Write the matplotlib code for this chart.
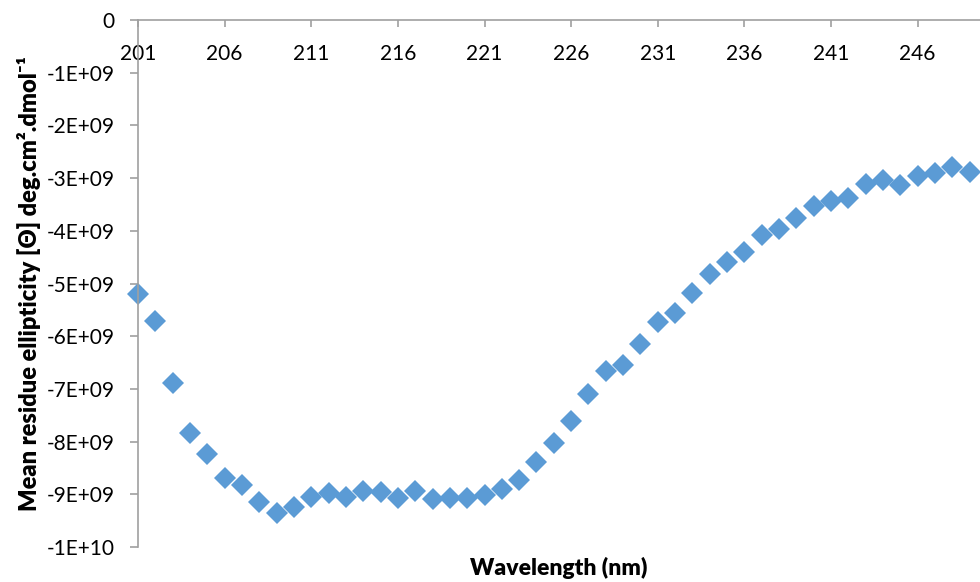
import numpy as np
import matplotlib.pyplot as plt

# CD spectrum, mean residue ellipticity vs wavelength
wavelength = list(range(201, 250))
ellipticity = [
    -5.20, -5.71, -6.89, -7.84, -8.24, -8.69, -8.82, -9.15, -9.35, -9.24,
    -9.05, -8.98, -9.05, -8.94, -8.96, -9.07, -8.94, -9.09, -9.07, -9.07,
    -9.01, -8.90, -8.73, -8.39, -8.03, -7.61, -7.10, -6.66, -6.55, -6.15,
    -5.73, -5.56, -5.18, -4.82, -4.59, -4.40, -4.08, -3.97, -3.76, -3.53,
    -3.43, -3.38, -3.11, -3.04, -3.13, -2.96, -2.90, -2.79, -2.88,
]  # x 1E+09

xtick_vals = [201, 206, 211, 216, 221, 226, 231, 236, 241, 246]
ytick_vals = [0, -1e9, -2e9, -3e9, -4e9, -5e9, -6e9, -7e9, -8e9, -9e9, -1e10]
ytick_labels = ['0', '-1E+09', '-2E+09', '-3E+09', '-4E+09', '-5E+09',
                '-6E+09', '-7E+09', '-8E+09', '-9E+09', '-1E+10']

plt.rcParams['font.family'] = ['Lato', 'DejaVu Sans']

fig = plt.figure(figsize=(9.8, 5.82), dpi=100)
ax = fig.add_axes([138/980, 35/582, 842/980, 527/582])

y = np.array(ellipticity) * 1e9
ax.plot(wavelength, y, linestyle='none', marker='D', markersize=11,
        color='#5B9BD5', markeredgewidth=0, clip_on=False)

ax.set_xlim(201, 249.6)
ax.set_ylim(-1e10, 0)

grey = '#A0A0A0'
for s in ['top', 'right']:
    ax.spines[s].set_visible(False)
ax.spines['bottom'].set_position(('data', 0))
ax.spines['bottom'].set_color(grey)
ax.spines['left'].set_color(grey)
ax.spines['bottom'].set_linewidth(1.2)
ax.spines['left'].set_linewidth(1.2)

ax.set_xticks(xtick_vals)
ax.set_xticklabels([str(v) for v in xtick_vals])
ax.set_yticks(ytick_vals)
ax.set_yticklabels(ytick_labels)
ax.tick_params(axis='x', direction='out', length=5, width=1.2, color=grey,
               pad=12, labelsize=15)
ax.tick_params(axis='y', direction='out', length=6, width=1.2, color=grey,
               pad=11, labelsize=15)

ax.set_ylabel('Mean residue ellipticity [\u0398] deg.cm\u00b2.dmol\u207b\u00b9',
              fontsize=17, fontweight='heavy', labelpad=4)
fig.text(559/980, 1 - 568/582, 'Wavelength (nm)', ha='center', va='center',
         fontsize=16.5, fontweight='heavy')

fig.savefig('out.png', dpi=100)
